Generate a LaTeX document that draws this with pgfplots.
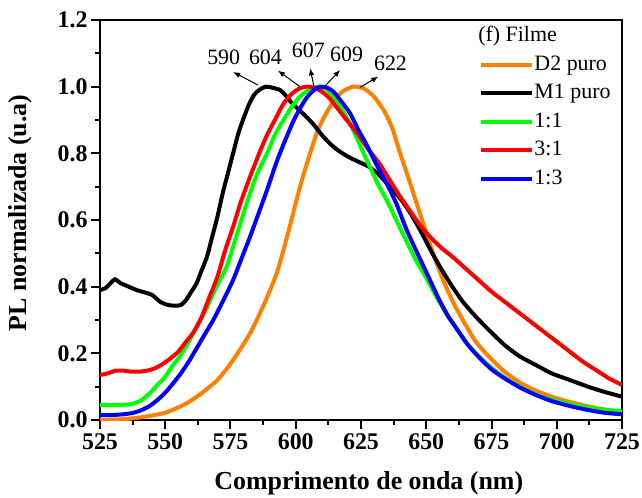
\documentclass[border=0pt]{standalone}
\usepackage{pgfplots}
\pgfplotsset{compat=1.18}
\usepackage{fontspec}
\setmainfont{Liberation Serif}
\usetikzlibrary{arrows.meta}
\definecolor{corange}{RGB}{255,128,0}
\definecolor{cgreen}{RGB}{0,255,0}
\definecolor{cred}{RGB}{255,0,0}
\definecolor{cblue}{RGB}{0,0,255}

\pgfplotstableread{
x y
525 0.0
535 0.003
544 0.012
550 0.022
557 0.045
563 0.075
570 0.12
576 0.18
582.5 0.26
588 0.35
592.7 0.44
596 0.53
599 0.62
602 0.71
605.5 0.80
608.5 0.87
612 0.925
615 0.962
618 0.986
622 1.0
626 0.995
630 0.97
634 0.925
637 0.875
640 0.80
643 0.73
645.5 0.67
648 0.61
650.5 0.55
653.5 0.48
657 0.41
660.5 0.35
664 0.30
669 0.235
674 0.19
680 0.145
686 0.112
692 0.088
698 0.07
705 0.054
712 0.041
718 0.032
725 0.025
}\dtwo

\pgfplotstableread{
x y
525 0.39
527 0.395
529 0.41
530.7 0.422
533 0.41
536 0.40
539 0.39
542 0.383
545 0.375
548 0.355
551 0.345
554 0.343
556 0.345
558 0.36
560 0.385
562 0.41
564 0.45
566 0.49
568 0.55
570 0.61
572 0.68
574 0.74
576 0.80
578 0.86
580 0.905
582 0.945
584 0.975
586 0.99
588.5 1.0
591 0.997
594 0.99
596 0.975
598 0.955
600 0.94
602 0.925
604 0.91
607 0.885
610 0.855
613 0.83
616 0.81
620 0.79
624 0.775
628 0.76
632 0.735
636 0.70
640 0.665
644 0.62
648 0.565
652 0.505
656 0.45
660 0.40
664 0.355
669 0.31
674 0.27
680 0.225
686 0.19
692 0.165
698 0.14
705 0.12
712 0.10
718 0.085
725 0.07
}\mone

\pgfplotstableread{
x y
525 0.045
530 0.045
535 0.046
538 0.05
541 0.06
544 0.08
547 0.105
550 0.13
553 0.165
556 0.195
559 0.235
562 0.28
565.5 0.33
569 0.39
573.5 0.46
577 0.545
581 0.645
585 0.735
589 0.80
592 0.855
595.3 0.90
598.5 0.94
601.6 0.97
604.5 0.988
607 0.997
609 1.0
612 0.99
614.4 0.97
617 0.94
620.8 0.89
624 0.835
627.2 0.78
631 0.715
634.8 0.66
638.5 0.60
642.5 0.535
646 0.48
649 0.44
651.4 0.405
655 0.355
658 0.315
661.6 0.275
665 0.235
669 0.2
673 0.17
678 0.138
684 0.108
690 0.084
696 0.066
702 0.053
708 0.043
714 0.035
720 0.029
725 0.026
}\oneone

\pgfplotstableread{
x y
525 0.135
528 0.14
531 0.148
534 0.148
537 0.145
540 0.145
543 0.148
546 0.155
549 0.168
552 0.185
555 0.205
558 0.235
561 0.265
564 0.31
567 0.37
570 0.43
573 0.51
576 0.58
579 0.655
582.5 0.73
586 0.80
589 0.855
592 0.90
595 0.945
598 0.975
601 0.993
604 1.0
607 0.997
610 0.985
613 0.965
616 0.935
620 0.895
624 0.855
628 0.81
632 0.77
636 0.72
640 0.67
644 0.625
648 0.58
652 0.545
656 0.515
660 0.49
665 0.455
670 0.42
675 0.385
680 0.355
685 0.325
690 0.295
695 0.265
700 0.235
705 0.205
710 0.175
715 0.15
720 0.125
725 0.105
}\threeone

\pgfplotstableread{
x y
525 0.015
530 0.015
535 0.018
538 0.022
541 0.03
544 0.042
547 0.06
550 0.082
553 0.11
556 0.14
559 0.175
562 0.215
565 0.255
568.4 0.30
572 0.355
576 0.42
579 0.48
582.5 0.55
586 0.625
589 0.69
592.7 0.775
596 0.84
599 0.895
602 0.94
604.5 0.97
607 0.99
609.5 1.0
612 0.997
614.4 0.985
617 0.96
620.8 0.92
624 0.87
627.2 0.825
631 0.765
634.8 0.71
638.5 0.65
642.5 0.57
646 0.51
649 0.46
652 0.41
655 0.36
658.5 0.31
662 0.27
666 0.225
670 0.19
675 0.152
680 0.125
686 0.097
692 0.075
698 0.057
705 0.042
712 0.03
718 0.022
725 0.017
}\onethree

\begin{document}
\begin{tikzpicture}
\begin{axis}[
  scale only axis, width=261bp, height=200bp,
  at={(0,0)}, anchor=south west,
  xmin=525, xmax=725, ymin=0, ymax=1.2,
  xtick={525,550,575,600,625,650,675,700,725},
  ytick={0,0.2,0.4,0.6,0.8,1.0,1.2},
  minor x tick num=1, minor y tick num=1,
  tick align=outside, xtick pos=left, ytick pos=left,
  major tick length=4.5bp, minor tick length=2.5bp,
  axis line style={line width=1.2bp},
  every tick/.style={black, line width=1bp},
  /pgf/number format/assume math mode=true,
  yticklabel style={/pgf/number format/fixed, /pgf/number format/fixed zerofill, /pgf/number format/precision=1, inner sep=1.5bp},
  xticklabel style={inner sep=2bp},
  ticklabel style={font=\fontsize{12}{14}\selectfont\bfseries},
  label style={font=\fontsize{13}{15}\selectfont\bfseries},
  xlabel={Comprimento de onda (nm)},
  ylabel={PL normalizada (u.a)},
  xlabel style={at={(axis description cs:0.515,-0.1575)}, anchor=center},
  ylabel style={at={(axis description cs:-0.153,0.5175)}, anchor=center},
  legend style={draw=none, fill=none, at={(rel axis cs:0.727,0.9145)}, anchor=north west,
    inner sep=0pt, outer sep=0pt, row sep=3.75bp,
    font=\fontsize{11}{13}\selectfont,
    nodes={inner sep=0pt, text height=8bp, text depth=2.5bp},
    /tikz/every even column/.append style={column sep=3.5bp}},
  legend cell align=left,
  legend image code/.code={\draw[#1] (0bp,0bp) -- (25.5bp,0bp);},
  every axis plot/.append style={line width=2bp, smooth, tension=0.4},
]
\addplot[corange] table {\dtwo};
\addlegendentry{D2 puro}
\addplot[black] table {\mone};
\addlegendentry{M1 puro}
\addplot[cgreen] table {\oneone};
\addlegendentry{1:1}
\addplot[cred] table {\threeone};
\addlegendentry{3:1}
\addplot[cblue] table {\onethree};
\addlegendentry{1:3}

\coordinate (O) at (rel axis cs:0,0);
\node[anchor=west, inner sep=0pt, font=\fontsize{11}{13}\selectfont] at (axis cs:669.8,1.152) {(f) Filme};

\begin{scope}[font=\fontsize{11}{13}\selectfont]
\node[inner sep=0pt] at (axis cs:572.4,1.089) {590};
\node[inner sep=0pt] at (axis cs:588.4,1.089) {604};
\node[inner sep=0pt] at (axis cs:604.8,1.109) {607};
\node[inner sep=0pt] at (axis cs:619.5,1.098) {609};
\node[inner sep=0pt] at (axis cs:636.3,1.069) {622};
\end{scope}
\begin{scope}[line width=0.5bp, -{Latex[length=3.5bp,width=2.8bp]}]
\draw (axis cs:585.5,1.005) -- (axis cs:576,1.044);
\draw (axis cs:601.6,1.0) -- (axis cs:593.2,1.048);
\draw (axis cs:607,1.0) -- (axis cs:605.5,1.055);
\draw (axis cs:610.4,0.995) -- (axis cs:617,1.05);
\draw (axis cs:624.6,0.998) -- (axis cs:631.6,1.03);
\end{scope}
\end{axis}
\pgfresetboundingbox
\path ([shift={(-50bp,-39bp)}]O) rectangle ([shift={(271bp,210bp)}]O);
\end{tikzpicture}
\end{document}
